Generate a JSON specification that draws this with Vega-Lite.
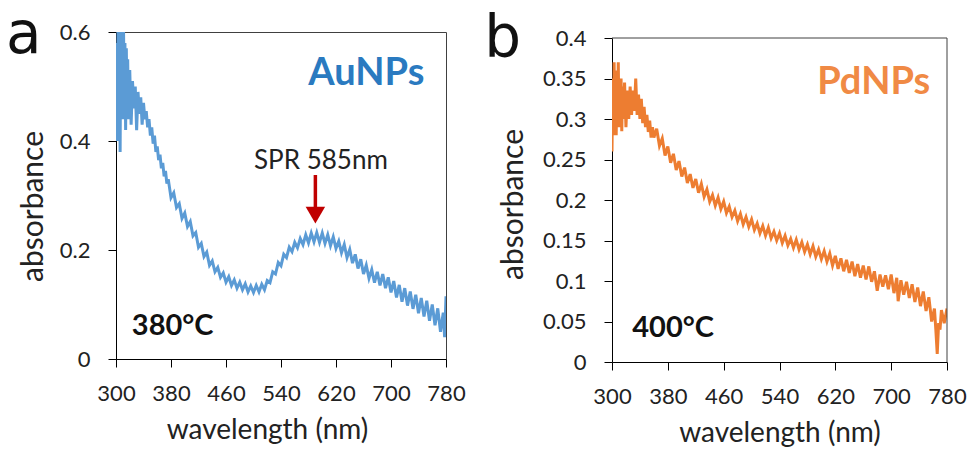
{
  "$schema": "https://vega.github.io/schema/vega-lite/v6.json",
  "background": "white",
  "padding": {"left": 5, "top": 6, "right": 5, "bottom": 0},
  "config": {
    "font": "Lato",
    "view": {"stroke": "#404040", "strokeWidth": 1},
    "axis": {
      "grid": false, "domainColor": "black", "tickColor": "black",
      "labelColor": "#222222", "titleColor": "#222222",
      "labelFont": "Lato", "titleFont": "Lato",
      "labelFontSize": 22, "titleFontSize": 28, "titleFontWeight": "normal",
      "tickSize": 8, "labelPadding": 8, "labelFlush": false, "labelOverlap": false
    },
    "axisX": {"labelPadding": 16, "titlePadding": 12},
    "axisY": {"labelPadding": 18, "titleFontSize": 30},
    "text": {"font": "Lato"}
  },
  "datasets": {
    "au": [
      {"wl":300,"abs":0.47},{"wl":301,"abs":0.58},{"wl":302,"abs":0.40},{"wl":303,"abs":0.63},{"wl":304,"abs":0.47},{"wl":305,"abs":0.61},{"wl":306,"abs":0.38},{"wl":307,"abs":0.63},{"wl":308,"abs":0.50},{"wl":309,"abs":0.62},{"wl":310,"abs":0.44},{"wl":311,"abs":0.60},{"wl":312,"abs":0.48},{"wl":313,"abs":0.58},{"wl":314,"abs":0.42},{"wl":315,"abs":0.57},{"wl":316,"abs":0.47},{"wl":317,"abs":0.55},{"wl":318,"abs":0.44},{"wl":320,"abs":0.53},{"wl":322,"abs":0.43},{"wl":324,"abs":0.51},{"wl":326,"abs":0.46},{"wl":328,"abs":0.50},{"wl":330,"abs":0.42},{"wl":332,"abs":0.49},{"wl":334,"abs":0.45},{"wl":336,"abs":0.48},{"wl":338,"abs":0.43},{"wl":340,"abs":0.47},
      {"wl":342,"abs":0.44},{"wl":344,"abs":0.455},{"wl":346,"abs":0.425},{"wl":348,"abs":0.44},{"wl":350,"abs":0.41},{"wl":352,"abs":0.425},{"wl":354,"abs":0.395},{"wl":356,"abs":0.41},{"wl":358,"abs":0.38},{"wl":360,"abs":0.39},{"wl":362,"abs":0.365},{"wl":364,"abs":0.375},{"wl":366,"abs":0.35},{"wl":368,"abs":0.36},{"wl":370,"abs":0.335},{"wl":372,"abs":0.345},{"wl":374,"abs":0.322},{"wl":376,"abs":0.33},
      {"wl":380,"abs":0.296},{"wl":384,"abs":0.305},{"wl":388,"abs":0.278},{"wl":392,"abs":0.285},{"wl":396,"abs":0.258},{"wl":400,"abs":0.268},{"wl":404,"abs":0.243},{"wl":408,"abs":0.252},{"wl":412,"abs":0.226},{"wl":416,"abs":0.232},{"wl":420,"abs":0.205},{"wl":424,"abs":0.212},{"wl":428,"abs":0.188},{"wl":432,"abs":0.196},{"wl":436,"abs":0.172},{"wl":440,"abs":0.180},{"wl":444,"abs":0.160},{"wl":448,"abs":0.168},{"wl":452,"abs":0.150},{"wl":456,"abs":0.158},{"wl":460,"abs":0.141},{"wl":464,"abs":0.151},{"wl":468,"abs":0.135},{"wl":472,"abs":0.145},{"wl":476,"abs":0.130},{"wl":480,"abs":0.141},{"wl":484,"abs":0.127},{"wl":488,"abs":0.138},{"wl":492,"abs":0.123},{"wl":496,"abs":0.134},{"wl":500,"abs":0.122},{"wl":504,"abs":0.135},{"wl":508,"abs":0.123},{"wl":512,"abs":0.137},{"wl":516,"abs":0.127},{"wl":520,"abs":0.144},{"wl":524,"abs":0.140},{"wl":528,"abs":0.160},{"wl":532,"abs":0.156},{"wl":536,"abs":0.177},{"wl":540,"abs":0.171},{"wl":544,"abs":0.192},{"wl":548,"abs":0.186},{"wl":552,"abs":0.205},{"wl":556,"abs":0.197},{"wl":560,"abs":0.214},{"wl":564,"abs":0.204},{"wl":568,"abs":0.221},{"wl":572,"abs":0.210},{"wl":576,"abs":0.228},{"wl":580,"abs":0.213},{"wl":584,"abs":0.231},{"wl":588,"abs":0.215},{"wl":592,"abs":0.232},{"wl":596,"abs":0.214},{"wl":600,"abs":0.231},{"wl":604,"abs":0.212},{"wl":608,"abs":0.228},{"wl":612,"abs":0.208},{"wl":616,"abs":0.224},{"wl":620,"abs":0.203},{"wl":624,"abs":0.216},{"wl":628,"abs":0.195},{"wl":632,"abs":0.210},{"wl":636,"abs":0.186},{"wl":640,"abs":0.201},{"wl":644,"abs":0.176},{"wl":648,"abs":0.192},{"wl":652,"abs":0.166},{"wl":656,"abs":0.183},{"wl":660,"abs":0.156},{"wl":664,"abs":0.172},{"wl":668,"abs":0.148},{"wl":672,"abs":0.164},{"wl":676,"abs":0.140},{"wl":680,"abs":0.160},{"wl":684,"abs":0.135},{"wl":688,"abs":0.156},{"wl":692,"abs":0.130},{"wl":696,"abs":0.150},{"wl":700,"abs":0.122},{"wl":704,"abs":0.143},{"wl":708,"abs":0.113},{"wl":712,"abs":0.136},{"wl":716,"abs":0.105},{"wl":720,"abs":0.130},{"wl":724,"abs":0.098},{"wl":728,"abs":0.124},{"wl":732,"abs":0.092},{"wl":736,"abs":0.118},{"wl":740,"abs":0.084},{"wl":744,"abs":0.112},{"wl":748,"abs":0.078},{"wl":752,"abs":0.107},{"wl":756,"abs":0.070},{"wl":760,"abs":0.100},{"wl":764,"abs":0.062},{"wl":768,"abs":0.093},{"wl":772,"abs":0.050},{"wl":776,"abs":0.085},{"wl":778,"abs":0.040},{"wl":780,"abs":0.115}
    ],
    "pd": [
      {"wl":300,"abs":0.26},{"wl":301,"abs":0.35},{"wl":302,"abs":0.28},{"wl":303,"abs":0.37},{"wl":304,"abs":0.30},{"wl":305,"abs":0.36},{"wl":306,"abs":0.28},{"wl":307,"abs":0.34},{"wl":308,"abs":0.30},{"wl":309,"abs":0.37},{"wl":310,"abs":0.29},{"wl":311,"abs":0.34},{"wl":312,"abs":0.31},{"wl":313,"abs":0.35},{"wl":314,"abs":0.285},{"wl":315,"abs":0.34},{"wl":316,"abs":0.30},{"wl":318,"abs":0.345},{"wl":320,"abs":0.29},{"wl":322,"abs":0.335},{"wl":324,"abs":0.30},{"wl":326,"abs":0.34},{"wl":328,"abs":0.305},{"wl":330,"abs":0.335},{"wl":332,"abs":0.31},{"wl":334,"abs":0.35},{"wl":336,"abs":0.305},{"wl":338,"abs":0.33},{"wl":340,"abs":0.30},{"wl":342,"abs":0.325},{"wl":344,"abs":0.295},{"wl":346,"abs":0.315},{"wl":348,"abs":0.29},{"wl":350,"abs":0.305},{"wl":352,"abs":0.284},{"wl":354,"abs":0.298},{"wl":356,"abs":0.277},{"wl":358,"abs":0.29},
      {"wl":360,"abs":0.277},{"wl":364,"abs":0.288},{"wl":368,"abs":0.267},{"wl":372,"abs":0.276},{"wl":376,"abs":0.255},{"wl":380,"abs":0.266},{"wl":384,"abs":0.246},{"wl":388,"abs":0.257},{"wl":392,"abs":0.237},{"wl":396,"abs":0.248},{"wl":400,"abs":0.229},{"wl":404,"abs":0.240},{"wl":408,"abs":0.221},{"wl":412,"abs":0.232},{"wl":416,"abs":0.215},{"wl":420,"abs":0.226},{"wl":424,"abs":0.209},{"wl":428,"abs":0.220},{"wl":432,"abs":0.204},{"wl":436,"abs":0.213},{"wl":440,"abs":0.198},{"wl":444,"abs":0.206},{"wl":448,"abs":0.193},{"wl":452,"abs":0.203},{"wl":456,"abs":0.189},{"wl":460,"abs":0.198},{"wl":464,"abs":0.184},{"wl":468,"abs":0.192},{"wl":472,"abs":0.179},{"wl":476,"abs":0.187},{"wl":480,"abs":0.174},{"wl":484,"abs":0.183},{"wl":488,"abs":0.170},{"wl":492,"abs":0.179},{"wl":496,"abs":0.167},{"wl":500,"abs":0.176},{"wl":504,"abs":0.163},{"wl":508,"abs":0.171},{"wl":512,"abs":0.159},{"wl":516,"abs":0.168},{"wl":520,"abs":0.156},{"wl":524,"abs":0.166},{"wl":528,"abs":0.153},{"wl":532,"abs":0.161},{"wl":536,"abs":0.150},{"wl":540,"abs":0.159},{"wl":544,"abs":0.147},{"wl":548,"abs":0.156},{"wl":552,"abs":0.144},{"wl":556,"abs":0.152},{"wl":560,"abs":0.141},{"wl":564,"abs":0.151},{"wl":568,"abs":0.139},{"wl":572,"abs":0.148},{"wl":576,"abs":0.136},{"wl":580,"abs":0.145},{"wl":584,"abs":0.133},{"wl":588,"abs":0.143},{"wl":592,"abs":0.130},{"wl":596,"abs":0.139},{"wl":600,"abs":0.127},{"wl":604,"abs":0.137},{"wl":608,"abs":0.124},{"wl":612,"abs":0.134},{"wl":616,"abs":0.119},{"wl":620,"abs":0.131},{"wl":624,"abs":0.115},{"wl":628,"abs":0.128},{"wl":632,"abs":0.112},{"wl":636,"abs":0.126},{"wl":640,"abs":0.110},{"wl":644,"abs":0.124},{"wl":648,"abs":0.106},{"wl":652,"abs":0.121},{"wl":656,"abs":0.104},{"wl":660,"abs":0.119},{"wl":664,"abs":0.102},{"wl":668,"abs":0.118},{"wl":672,"abs":0.099},{"wl":676,"abs":0.112},{"wl":680,"abs":0.088},{"wl":684,"abs":0.108},{"wl":688,"abs":0.093},{"wl":692,"abs":0.107},{"wl":696,"abs":0.090},{"wl":700,"abs":0.108},{"wl":704,"abs":0.085},{"wl":708,"abs":0.104},{"wl":710,"abs":0.075},{"wl":714,"abs":0.101},{"wl":718,"abs":0.083},{"wl":722,"abs":0.099},{"wl":726,"abs":0.079},{"wl":730,"abs":0.096},{"wl":734,"abs":0.074},{"wl":738,"abs":0.092},{"wl":742,"abs":0.069},{"wl":746,"abs":0.087},{"wl":750,"abs":0.063},{"wl":754,"abs":0.080},{"wl":758,"abs":0.050},{"wl":762,"abs":0.066},{"wl":764,"abs":0.040},{"wl":766,"abs":0.010},{"wl":768,"abs":0.048},{"wl":770,"abs":0.040},{"wl":772,"abs":0.064},{"wl":776,"abs":0.048},{"wl":780,"abs":0.066}
    ]
  },
  "bounds": "flush",
  "spacing": 166,
  "hconcat": [
    {
      "width": 330, "height": 327,
      "layer": [
        {
          "data": {"name": "au"},
          "mark": {"type": "line", "color": "#5B9BD5", "strokeWidth": 3, "clip": true},
          "encoding": {
            "x": {"field": "wl", "type": "quantitative", "scale": {"domain": [300, 780], "nice": false, "zero": false},
                  "axis": {"values": [300, 380, 460, 540, 620, 700, 780], "title": "wavelength (nm)", "titleX": 151}},
            "y": {"field": "abs", "type": "quantitative", "scale": {"domain": [0, 0.6], "nice": false},
                  "axis": {"values": [0, 0.2, 0.4, 0.6], "format": "~g", "title": "absorbance", "titlePadding": 11, "titleY": 174}}
          }
        },
        {
          "data": {"values": [{}]},
          "mark": {"type": "rule", "color": "#C00000", "strokeWidth": 3.5},
          "encoding": {"x": {"datum": 590}, "y": {"datum": 0.3376}, "y2": {"datum": 0.275}}
        },
        {
          "data": {"values": [{}]},
          "mark": {"type": "point", "shape": "triangle-down", "filled": true, "color": "#C00000", "size": 380, "opacity": 1},
          "encoding": {"x": {"datum": 590}, "y": {"datum": 0.264}}
        },
        {
          "data": {"values": [{}]},
          "mark": {"type": "text", "text": "SPR 585nm", "fontSize": 26, "color": "#222222", "align": "center", "baseline": "alphabetic"},
          "encoding": {"x": {"datum": 598}, "y": {"datum": 0.3486}}
        },
        {
          "data": {"values": [{}]},
          "mark": {"type": "text", "text": "AuNPs", "fontSize": 38, "fontWeight": "bold", "color": "#2A7AC0", "align": "center", "baseline": "alphabetic"},
          "encoding": {"x": {"datum": 664}, "y": {"datum": 0.503}}
        },
        {
          "data": {"values": [{}]},
          "mark": {"type": "text", "text": "380°C", "fontSize": 29, "fontWeight": "bold", "color": "#111111", "align": "left", "baseline": "alphabetic"},
          "encoding": {"x": {"datum": 323}, "y": {"datum": 0.044}}
        },
        {
          "data": {"values": [{}]},
          "mark": {"type": "text", "text": "a", "font": "DejaVu Sans", "fontSize": 58, "color": "#111111", "align": "left", "baseline": "alphabetic"},
          "encoding": {"x": {"datum": 140}, "y": {"datum": 0.561}}
        }
      ]
    },
    {
      "width": 335, "height": 330,
      "view": {"stroke": null},
      "layer": [
        {
          "data": {"name": "pd"},
          "mark": {"type": "line", "color": "#ED7D31", "strokeWidth": 3, "clip": true},
          "encoding": {
            "x": {"field": "wl", "type": "quantitative", "scale": {"domain": [300, 780], "nice": false, "zero": false},
                  "axis": {"values": [300, 380, 460, 540, 620, 700, 780], "title": "wavelength (nm)"}},
            "y": {"field": "abs", "type": "quantitative", "scale": {"domain": [0, 0.4], "nice": false, "range": [330, 6]},
                  "axis": {"values": [0, 0.05, 0.1, 0.15, 0.2, 0.25, 0.3, 0.35, 0.4], "format": "~g", "title": "absorbance", "titlePadding": 14, "titleY": 172}}
          }
        },
        {
          "data": {"values": [{}]},
          "mark": {"type": "rule", "color": "#404040", "strokeWidth": 1},
          "encoding": {"x": {"datum": 300}, "x2": {"datum": 780}, "y": {"datum": 0.4}}
        },
        {
          "data": {"values": [{}]},
          "mark": {"type": "rule", "color": "#404040", "strokeWidth": 1},
          "encoding": {"x": {"datum": 780}, "y": {"datum": 0}, "y2": {"datum": 0.4}}
        },
        {
          "data": {"values": [{}]},
          "mark": {"type": "text", "text": "PdNPs", "fontSize": 38, "fontWeight": "bold", "color": "#F08A45", "align": "center", "baseline": "alphabetic"},
          "encoding": {"x": {"datum": 675}, "y": {"datum": 0.331}}
        },
        {
          "data": {"values": [{}]},
          "mark": {"type": "text", "text": "400°C", "fontSize": 29, "fontWeight": "bold", "color": "#111111", "align": "left", "baseline": "alphabetic"},
          "encoding": {"x": {"datum": 329}, "y": {"datum": 0.031}}
        },
        {
          "data": {"values": [{}]},
          "mark": {"type": "text", "text": "b", "font": "DejaVu Sans", "fontSize": 58, "color": "#111111", "align": "left", "baseline": "alphabetic"},
          "encoding": {"x": {"datum": 117}, "y": {"datum": 0.3765}}
        }
      ]
    }
  ]
}
